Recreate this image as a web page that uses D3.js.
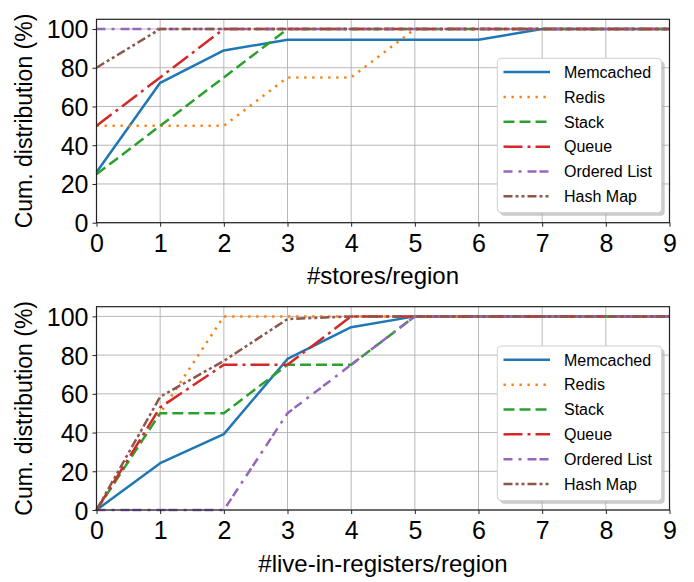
<!DOCTYPE html>
<html><head><meta charset="utf-8">
<script src="https://cdn.jsdelivr.net/npm/d3@7"></script>
<style>body{margin:0;background:#fff}svg{display:block}text{font-family:"Liberation Sans",Arial,sans-serif;fill:#000}</style>
</head><body><svg id="c" width="694" height="582"></svg>
<script>
const xValues = [0,1,2,3,4,5,6,7,8,9];
const seriesNames = ["Memcached","Redis","Stack","Queue","Ordered List","Hash Map"];
const seriesColors = ["#1f77b4","#ff7f0e","#2ca02c","#d62728","#9467bd","#8c564b"];
const seriesDashes = ["", "2.3,5.7", "11,5", "19,5,3,5", "9,6,3,6,9,3", "9,3,3,3,3,3"];
// top panel: #stores/region
const storesMemcached   = [26,72.2,88.9,94.4,94.4,94.4,94.4,100,100,100];
const storesRedis       = [50,50,50,75,75,100,100,100,100,100];
const storesStack       = [25,50,75,100,100,100,100,100,100,100];
const storesQueue       = [50,75,100,100,100,100,100,100,100,100];
const storesOrderedList = [100,100,100,100,100,100,100,100,100,100];
const storesHashMap     = [80,100,100,100,100,100,100,100,100,100];
// bottom panel: #live-in-registers/region
const liveMemcached   = [0,24.2,39.2,78,94.4,100,100,100,100,100];
const liveRedis       = [0,50,100,100,100,100,100,100,100,100];
const liveStack       = [0,50,50,75,75,100,100,100,100,100];
const liveQueue       = [0,53,75,75,100,100,100,100,100,100];
const liveOrderedList = [0,0,0,50,75,100,100,100,100,100];
const liveHashMap     = [0,58.5,77,98.6,100,100,100,100,100,100];
const xTicks = [0,1,2,3,4,5,6,7,8,9];
const yTicks = [0,20,40,60,80,100];
const yLabel = "Cum. distribution (%)";
const xLabelTop = "#stores/region";
const xLabelBottom = "#live-in-registers/region";

const svg = d3.select("#c");
const panels = [
  {data:[storesMemcached,storesRedis,storesStack,storesQueue,storesOrderedList,storesHashMap], top:19.3, bottom:222.7, xlabel:xLabelTop, xlabY:284, legTop:58.3, legBottom:212.7},
  {data:[liveMemcached,liveRedis,liveStack,liveQueue,liveOrderedList,liveHashMap], top:306.7, bottom:510, xlabel:xLabelBottom, xlabY:572, legTop:346, legBottom:500.7}
];
const L = 96.5, R = 669.5;
panels.forEach(p => {
  const x = d3.scaleLinear().domain([0,9]).range([L,R]);
  const y = d3.scaleLinear().domain([0,105]).range([p.bottom,p.top]);
  const g = svg.append("g");
  // grid
  g.selectAll(".gx").data(xTicks).join("line").attr("x1",d=>x(d)).attr("x2",d=>x(d)).attr("y1",p.top).attr("y2",p.bottom).attr("stroke","#b0b0b0").attr("stroke-width",0.9);
  g.selectAll(".gy").data(yTicks).join("line").attr("y1",d=>y(d)).attr("y2",d=>y(d)).attr("x1",L).attr("x2",R).attr("stroke","#b0b0b0").attr("stroke-width",0.9);
  // lines
  p.data.forEach((vals,i) => {
    const line = d3.line().x((d,j)=>x(xValues[j])).y(d=>y(d));
    g.append("path").datum(vals).attr("d",line).attr("fill","none").attr("stroke",seriesColors[i]).attr("stroke-width",2.5)
      .attr("stroke-dasharray",seriesDashes[i]||null).attr("stroke-linecap","butt").attr("stroke-linejoin","round");
  });
  // axes
  const xa = g.append("g").attr("transform",`translate(0,${p.bottom})`).call(d3.axisBottom(x).tickValues(xTicks).tickSize(4).tickPadding(4).tickFormat(d3.format("d")));
  const ya = g.append("g").attr("transform",`translate(${L},0)`).call(d3.axisLeft(y).tickValues(yTicks).tickSize(4).tickPadding(4).tickFormat(d3.format("d")));
  [xa,ya].forEach(a=>{a.select(".domain").remove(); a.selectAll("line").attr("stroke","#222").attr("stroke-width",1); a.selectAll("text").style("font-size","25px").attr("fill","#000");});
  xa.selectAll("text").attr("dy","0.85em");
  ya.selectAll("text").attr("dy","0.36em");
  g.append("rect").attr("x",L).attr("y",p.top).attr("width",R-L).attr("height",p.bottom-p.top).attr("fill","none").attr("stroke","#222").attr("stroke-width",1.2);
  // labels
  g.append("text").attr("x",(L+R)/2).attr("y",p.xlabY).attr("text-anchor","middle").style("font-size","24px").text(p.xlabel);
  g.append("text").attr("transform",`translate(32,${(p.top+p.bottom)/2}) rotate(-90)`).attr("text-anchor","middle").style("font-size","23px").attr("xml:space","preserve").text(yLabel);
  // legend
  const lx = 497.3, lw = 164.4, lh = p.legBottom - p.legTop;
  const leg = g.append("g");
  leg.append("rect").attr("x",lx+3).attr("y",p.legTop+3).attr("width",lw).attr("height",lh).attr("rx",4).attr("fill","#aaa").attr("opacity",0.6);
  leg.append("rect").attr("x",lx).attr("y",p.legTop).attr("width",lw).attr("height",lh).attr("rx",4).attr("fill","#fff").attr("stroke","#d0d0d0").attr("stroke-width",1);
  seriesNames.forEach((n,i)=>{
    const yy = p.legTop + 13.8 + i*24.85;
    leg.append("line").attr("x1",503.5).attr("x2",550).attr("y1",yy).attr("y2",yy).attr("stroke",seriesColors[i]).attr("stroke-width",2.5).attr("stroke-dasharray",seriesDashes[i]||null);
    leg.append("text").attr("x",564).attr("y",yy).attr("dy","0.36em").style("font-size","16px").text(n);
  });
});
</script></body></html>
